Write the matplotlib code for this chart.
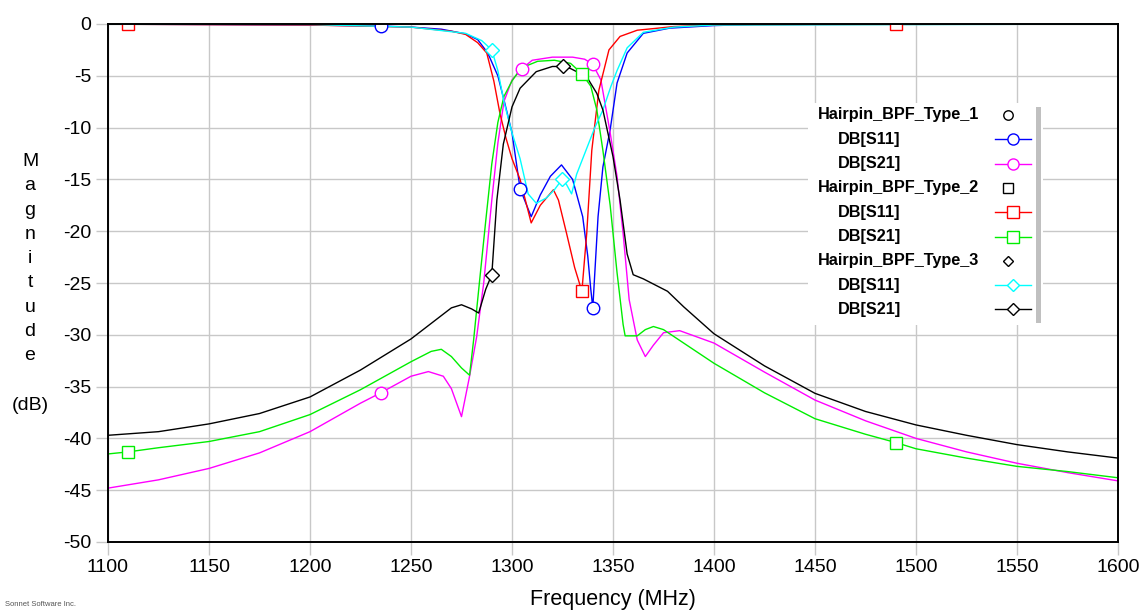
import numpy as np
import matplotlib
matplotlib.use('Agg')
import matplotlib.pyplot as plt
from matplotlib.lines import Line2D
from matplotlib.patches import Rectangle

W, H = 1143, 610
plt.rcParams['font.family'] = ['Liberation Sans', 'DejaVu Sans']

# ---------------- data (MHz, dB) ----------------
t1_s11_f = [1100, 1150, 1200, 1235, 1250, 1265, 1277, 1283, 1288, 1293, 1296, 1300, 1304,
            1309.5, 1314, 1319, 1324.5, 1330, 1335, 1337.5, 1339, 1340, 1342.6, 1345,
            1348.6, 1352, 1357, 1365, 1378, 1400, 1420, 1500, 1600]
t1_s11_db = [-0.02, -0.05, -0.1, -0.2, -0.3, -0.5, -0.95, -1.5, -2.8, -5.0, -7.3, -10.5, -15.9,
             -18.6, -16.5, -14.7, -13.6, -15.0, -18.6, -22.4, -25.6, -27.4, -18.6, -13.8,
             -10.2, -5.7, -2.8, -0.9, -0.4, -0.15, -0.05, -0.02, -0.01]

t1_s21_f = [1100, 1125, 1150, 1175, 1200, 1225, 1235, 1250, 1258.6, 1266, 1270, 1275, 1279,
            1282.5, 1286, 1290, 1293, 1296, 1300, 1305, 1310, 1320, 1330, 1336, 1340, 1344,
            1348.6, 1352, 1355, 1358, 1362, 1366, 1370, 1375, 1383, 1400, 1425, 1450, 1475,
            1500, 1525, 1550, 1575, 1600]
t1_s21_db = [-44.8, -44.0, -42.9, -41.4, -39.35, -36.6, -35.6, -34.0, -33.55, -34.0, -35.2, -37.9, -34.0,
             -30.2, -25.0, -17.0, -11.5, -7.5, -5.4, -4.3, -3.5, -3.2, -3.2, -3.4, -3.9, -5.4,
             -10.5, -14.7, -20.2, -26.6, -30.5, -32.1, -31.0, -29.8, -29.6, -30.8, -33.6, -36.3, -38.3,
             -40.0, -41.3, -42.4, -43.3, -44.1]

t2_s11_f = [1100, 1200, 1250, 1270, 1277, 1283, 1287.5, 1291, 1294, 1297, 1300, 1304, 1309.5,
            1314, 1320.5, 1323, 1327, 1331, 1334.6, 1336, 1337, 1339.5, 1343, 1348, 1353.5,
            1362, 1380, 1400, 1450, 1600]
t2_s11_db = [-0.02, -0.1, -0.3, -0.7, -1.0, -1.8, -2.8, -5.5, -8.6, -11.0, -13.0, -15.0, -19.2,
             -17.5, -16.0, -17.0, -20.2, -23.5, -25.8, -22.5, -20.2, -12.2, -6.4, -2.5, -1.2,
             -0.6, -0.25, -0.1, -0.05, -0.01]

t2_s21_f = [1100, 1110, 1125, 1150, 1175, 1200, 1225, 1250, 1260, 1265, 1270, 1275, 1279,
            1281, 1284, 1287, 1290, 1293, 1296, 1300, 1304.5, 1312.7, 1321, 1329, 1334.6,
            1339, 1342, 1345, 1348.6, 1352, 1355, 1356, 1362, 1366, 1370, 1375, 1400, 1425,
            1450, 1475, 1490, 1500, 1525, 1550, 1575, 1600]
t2_s21_db = [-41.5, -41.3, -40.9, -40.3, -39.35, -37.7, -35.3, -32.6, -31.6, -31.4, -32.1, -33.2, -33.9,
             -30.5, -24.7, -19.0, -13.5, -9.5, -7.0, -5.5, -4.25, -3.6, -3.5, -3.8, -4.8,
             -6.0, -8.3, -12.2, -17.5, -24.0, -29.0, -30.1, -30.1, -29.5, -29.2, -29.5, -32.75, -35.6,
             -38.1, -39.6, -40.4, -41.0, -41.9, -42.7, -43.2, -43.8]

t3_s11_f = [1100, 1200, 1250, 1277, 1285, 1290, 1293, 1296, 1300, 1304, 1308, 1312, 1317, 1321,
            1324.8, 1327, 1329.5, 1332, 1336, 1341, 1345, 1349, 1352, 1357, 1365, 1380, 1400, 1600]
t3_s11_db = [-0.01, -0.05, -0.3, -0.9, -1.6, -2.5, -4.5, -7.5, -10.5, -13.0, -16.4, -17.3, -16.8, -16.0,
             -15.0, -15.5, -16.4, -14.5, -12.5, -10.0, -8.3, -6.0, -4.5, -2.3, -0.8, -0.3, -0.1, -0.01]

t3_s21_f = [1100, 1125, 1150, 1175, 1200, 1225, 1250, 1260, 1270, 1275, 1280, 1283.5, 1287, 1290,
            1292.5, 1295.7, 1300, 1304, 1312, 1320, 1325, 1329, 1337, 1342, 1345, 1350, 1353.5,
            1357, 1360, 1365, 1370, 1377, 1385, 1400, 1425, 1450, 1475, 1500, 1525, 1550, 1575, 1600]
t3_s21_db = [-39.7, -39.35, -38.6, -37.6, -36.0, -33.4, -30.4, -28.9, -27.4, -27.1, -27.5, -27.9, -25.6, -24.2,
             -17.0, -11.6, -8.0, -6.2, -4.6, -4.1, -4.1, -4.3, -5.1, -6.7, -8.3, -12.8, -17.0,
             -22.2, -24.2, -24.6, -25.1, -25.8, -27.3, -29.9, -33.0, -35.65, -37.4, -38.7, -39.7, -40.6, -41.3, -41.9]

# marker frequencies per series
t1_s11_mk = [1235, 1304, 1340]
t1_s21_mk = [1235, 1305, 1340]
t2_s11_mk = [1110, 1334.6, 1490]
t2_s21_mk = [1110, 1334.6, 1490]
t3_s11_mk = [1290, 1324.8]
t3_s21_mk = [1290, 1325]

x_ticks = [1100, 1150, 1200, 1250, 1300, 1350, 1400, 1450, 1500, 1550, 1600]
y_ticks = [0, -5, -10, -15, -20, -25, -30, -35, -40, -45, -50]

# ---------------- figure ----------------
fig = plt.figure(figsize=(W / 100, H / 100), dpi=100)
ax = fig.add_axes([108 / W, 1 - 542 / H, (1118 - 108) / W, (542 - 24) / H])

series = [
    (t1_s11_f, t1_s11_db, t1_s11_mk, '#0000ff', 'o'),
    (t1_s21_f, t1_s21_db, t1_s21_mk, '#ff00ff', 'o'),
    (t2_s11_f, t2_s11_db, t2_s11_mk, '#ff0000', 's'),
    (t2_s21_f, t2_s21_db, t2_s21_mk, '#00ee00', 's'),
    (t3_s11_f, t3_s11_db, t3_s11_mk, '#00ffff', 'D'),
    (t3_s21_f, t3_s21_db, t3_s21_mk, '#000000', 'D'),
]
msize = {'o': 9, 's': 9, 'D': 7}
for f, db, mk, c, m in series:
    ax.plot(f, db, color=c, lw=1.0, zorder=3)
    ax.plot(mk, np.interp(mk, f, db), ls='none', marker=m, ms=msize[m], mfc='white',
            mec=c, mew=1.0, zorder=4)

ax.set_xlim(1100, 1600)
ax.set_ylim(-50, 0)
ax.set_xticks(x_ticks)
ax.set_yticks(y_ticks)
ax.set_yticklabels([str(v) for v in y_ticks])
ax.grid(True, color='#c8c8c8', lw=1.0, zorder=0)
ax.set_axisbelow(True)
ax.tick_params(length=9, width=1, color='#c8c8c8', labelsize=14, pad=3)
for s in ax.spines.values():
    s.set_linewidth(1.4)
    s.set_color('black')
    s.set_zorder(5)

def P(x, y):
    return (x / W, 1 - y / H)

# y label, stacked letters
letters = ['M', 'a', 'g', 'n', 'i', 't', 'u', 'd', 'e']
ys = [161.7, 186.0, 210.2, 234.4, 258.6, 282.8, 307.0, 331.2, 355.4]
for ch, yy in zip(letters, ys):
    fig.text(*P(30, yy), ch, ha='center', va='center', fontsize=14)
fig.text(*P(30, 405), '(dB)', ha='center', va='center', fontsize=14)

fig.text(*P(613, 600), 'Frequency (MHz)', ha='center', va='center', fontsize=15.5)
fig.text(*P(5, 604), 'Sonnet Software Inc.', ha='left', va='center', fontsize=5.5, color='#555555')

# legend (drawn manually)
fig.add_artist(Rectangle(P(808, 325), (1043 - 808) / W, (325 - 103) / H,
                         transform=fig.transFigure, facecolor='white', edgecolor='none', zorder=6))
fig.add_artist(Rectangle(P(1036, 323), 5 / W, (323 - 107) / H,
                         transform=fig.transFigure, facecolor='#c0c0c0', edgecolor='none', zorder=7))
rows_y = [115, 139.3, 163.6, 187.9, 212.2, 236.5, 260.8, 285.1, 309.4]
legend_rows = [
    ('Hairpin_BPF_Type_1', None, 'o'),
    ('DB[S11]', '#0000ff', 'o'),
    ('DB[S21]', '#ff00ff', 'o'),
    ('Hairpin_BPF_Type_2', None, 's'),
    ('DB[S11]', '#ff0000', 's'),
    ('DB[S21]', '#00ee00', 's'),
    ('Hairpin_BPF_Type_3', None, 'D'),
    ('DB[S11]', '#00ffff', 'D'),
    ('DB[S21]', '#000000', 'D'),
]
lmsize = {'o': 8, 's': 8, 'D': 6.5}
for (label, col, m), yy in zip(legend_rows, rows_y):
    if col is None:
        fig.text(*P(818, yy), label, ha='left', va='center', fontsize=11.7, fontweight='bold', zorder=8)
        fig.add_artist(Line2D([1008 / W], [1 - yy / H], transform=fig.transFigure, ls='none',
                              marker=m, ms=lmsize[m] * 0.85, mfc='white', mec='black', mew=1.0, zorder=8))
    else:
        fig.text(*P(838, yy), label, ha='left', va='center', fontsize=11.7, fontweight='bold', zorder=8)
        fig.add_artist(Line2D([995 / W, 1031 / W], [1 - yy / H, 1 - yy / H], transform=fig.transFigure,
                              color=col, lw=1.0, zorder=8))
        fig.add_artist(Line2D([1013 / W], [1 - yy / H], transform=fig.transFigure, ls='none',
                              marker=m, ms=lmsize[m], mfc='white', mec=col, mew=1.0, zorder=9))

fig.savefig('out.png', dpi=100)
